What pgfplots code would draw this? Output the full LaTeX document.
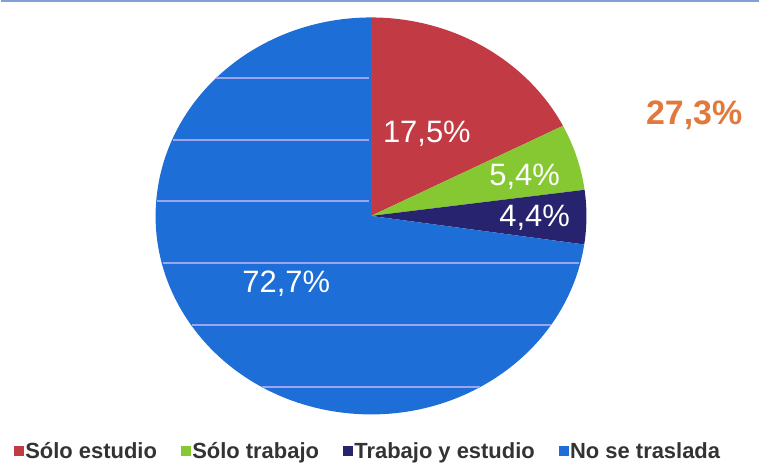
\documentclass[border=0pt]{standalone}
\usepackage{pgfplots}
\usepackage{pgfplotstable}
\pgfplotsset{compat=1.18}
\usepackage{fontspec}
\setmainfont{Liberation Sans}
\definecolor{redc}{HTML}{C23B44}
\definecolor{greenc}{HTML}{86C832}
\definecolor{navyc}{HTML}{28236E}
\definecolor{bluec}{HTML}{1E6ED7}
\definecolor{gridc}{HTML}{9BA5F0}
\definecolor{orangec}{HTML}{E1783C}
\definecolor{topc}{HTML}{7FA2D6}
\definecolor{legtext}{HTML}{333333}

\pgfplotstableread{
share
17.5
5.4
4.4
72.7
}\piedata

\pgfplotstablegetelem{0}{share}\of\piedata \let\sA\pgfplotsretval
\pgfplotstablegetelem{1}{share}\of\piedata \let\sB\pgfplotsretval
\pgfplotstablegetelem{2}{share}\of\piedata \let\sC\pgfplotsretval
\pgfplotstablegetelem{3}{share}\of\piedata \let\sD\pgfplotsretval
\pgfmathsetmacro\aA{90-3.6*\sA}
\pgfmathsetmacro\aB{\aA-3.6*\sB}
\pgfmathsetmacro\aC{\aB-3.6*\sC}
\pgfmathsetmacro\aD{\aC-3.6*\sD}

\begin{document}
\begin{tikzpicture}
\begin{axis}[
  scale only axis, width=760pt, height=465pt,
  xmin=0, xmax=760, ymin=0, ymax=465,
  hide axis, clip=false,
  legend columns=4,
  legend style={at={(axis cs:368,13)}, anchor=center, draw=none, fill=none,
    inner sep=0pt, font=\fontsize{22}{26}\selectfont\bfseries, text=legtext,
    /tikz/every even column/.append style={column sep=22pt},
    nodes={inner xsep=2pt, inner ysep=0pt}},
  legend cell align=left,
]
\addplot[draw=none, forget plot] coordinates {(0,0) (760,465)};
% wedges
\fill[redc] (axis cs:371,248.5) -- (axis cs:371,447.5) arc[start angle=90, end angle=\aA, x radius=216pt, y radius=199pt] -- cycle;
\fill[greenc] (axis cs:371,248.5) -- ++(\aA:216pt and 199pt) arc[start angle=\aA, end angle=\aB, x radius=216pt, y radius=199pt] -- cycle;
\fill[navyc] (axis cs:371,248.5) -- ++(\aB:216pt and 199pt) arc[start angle=\aB, end angle=\aC, x radius=216pt, y radius=199pt] -- cycle;
\fill[bluec] (axis cs:371,248.5) -- ++(\aC:216pt and 199pt) arc[start angle=\aC, end angle=\aD, x radius=216pt, y radius=199pt] -- cycle;
% light horizontal lines across the blue slice
\addplot[gridc, line width=2pt, forget plot] coordinates {(216,387) (369,387)};
\addplot[gridc, line width=2pt, forget plot] coordinates {(172,325) (369,325)};
\addplot[gridc, line width=2pt, forget plot] coordinates {(156,263) (369,263)};
\addplot[gridc, line width=2pt, forget plot] coordinates {(162,201) (580,201)};
\addplot[gridc, line width=2pt, forget plot] coordinates {(191,139) (551,139)};
\addplot[gridc, line width=2pt, forget plot] coordinates {(262,77) (480,77)};
% top border line
\addplot[topc, line width=2pt, forget plot] coordinates {(0,464) (760,464)};
% labels
\node[text=white, font=\fontsize{31}{36}\selectfont] at (axis cs:427,331) {17,5\%};
\node[text=white, font=\fontsize{31}{36}\selectfont] at (axis cs:525,288) {5,4\%};
\node[text=white, font=\fontsize{31}{36}\selectfont] at (axis cs:535,247) {4,4\%};
\node[text=white, font=\fontsize{31}{36}\selectfont] at (axis cs:286,181) {72,7\%};
\node[text=orangec, font=\fontsize{34}{40}\selectfont\bfseries] at (axis cs:695,349) {27,3\%};
% legend
\pgfplotsset{every axis legend/.append style={}}
\addlegendimage{legend image code/.code={\fill[redc] (0pt,-4.5pt) rectangle (9pt,4.5pt);}}
\addlegendentry{Sólo estudio}
\addlegendimage{legend image code/.code={\fill[greenc] (0pt,-4.5pt) rectangle (9pt,4.5pt);}}
\addlegendentry{Sólo trabajo}
\addlegendimage{legend image code/.code={\fill[navyc] (0pt,-4.5pt) rectangle (9pt,4.5pt);}}
\addlegendentry{Trabajo y estudio}
\addlegendimage{legend image code/.code={\fill[bluec] (0pt,-4.5pt) rectangle (9pt,4.5pt);}}
\addlegendentry{No se traslada}
\end{axis}
\end{tikzpicture}
\end{document}
